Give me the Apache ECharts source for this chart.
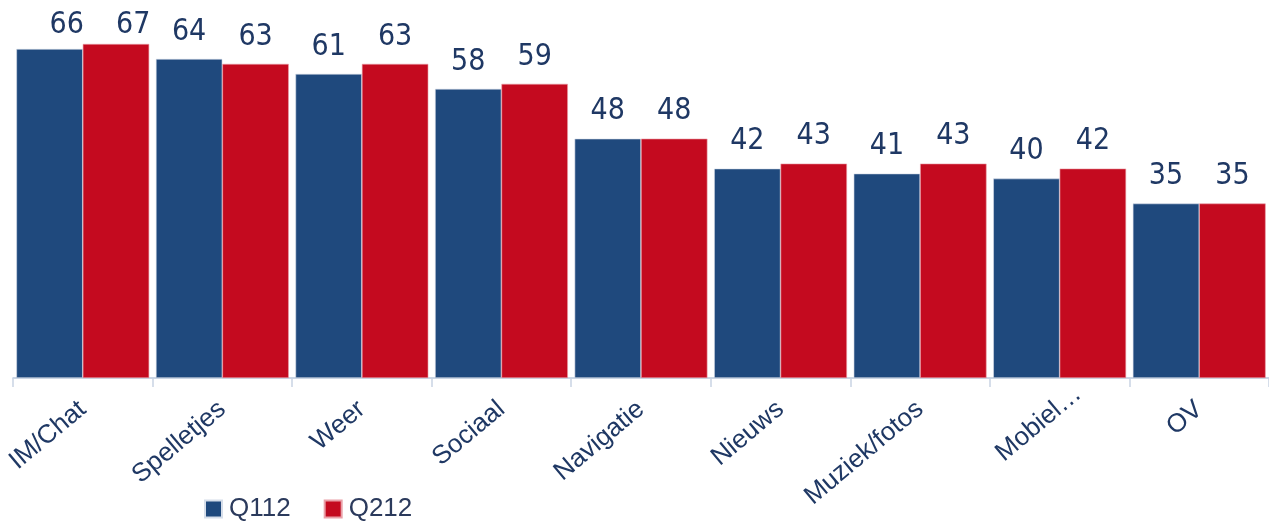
<!DOCTYPE html>
<html>
<head>
<meta charset="utf-8">
<script src="https://cdn.jsdelivr.net/npm/echarts@6/dist/echarts.min.js"></script>
<style>
  html, body { margin: 0; padding: 0; background: #ffffff; }
  #chart { width: 1269px; height: 527px; }
</style>
</head>
<body>
<div id="chart"></div>
<script>
// App usage per category, two quarters
const categories = ['IM/Chat', 'Spelletjes', 'Weer', 'Sociaal', 'Navigatie', 'Nieuws', 'Muziek/fotos', 'Mobiel…', 'OV'];
const q112 = [66, 64, 61, 58, 48, 42, 41, 40, 35];
const q212 = [67, 63, 63, 59, 48, 43, 43, 42, 35];
const seriesNames = ['Q112', 'Q212'];

const BLUE = '#1f497d';
const RED = '#c40a1f';
const NAVY = '#1f3864';
const NUM_FONT = '"Liberation Sans Narrow", "DejaVu Sans Condensed", "Roboto Condensed", sans-serif';
const TEXT_FONT = '"Liberation Sans", Arial, sans-serif';

const chart = echarts.init(document.getElementById('chart'), null, { renderer: 'canvas' });

const valueLabel = {
  show: true,
  position: 'top',
  distance: 12,
  color: NAVY,
  fontFamily: NUM_FONT,
  fontSize: 30,
  fontWeight: 'normal'
};

// keep labels of the tallest bars inside the canvas
function clampTop(params) {
  const r = params.labelRect;
  if (r.y < 10) {
    return { y: 10, verticalAlign: 'top' };
  }
  return {};
}

chart.setOption({
  animation: false,
  grid: { left: 13, right: 0, top: 29, bottom: 149, containLabel: false },
  legend: {
    data: seriesNames,
    left: 204,
    bottom: 5,
    padding: 0,
    itemWidth: 17,
    itemHeight: 17,
    itemGap: 33,
    icon: 'rect',
    textStyle: { color: '#2b3a5c', fontSize: 26, fontFamily: TEXT_FONT, padding: [0, 0, 0, 2] }
  },
  xAxis: {
    type: 'category',
    data: categories,
    axisLine: { lineStyle: { color: '#b9c7dc', width: 1.5 } },
    axisTick: { show: true, length: 9, lineStyle: { color: '#c9d4e4', width: 1.5 } },
    axisLabel: {
      rotate: 40,
      margin: 28,
      interval: 0,
      color: NAVY,
      fontSize: 26,
      fontFamily: TEXT_FONT,
      // the truncated label hangs a little past its tick centre
      formatter: (v) => (v.endsWith('…') ? '{cut|' + v + '}' : v),
      rich: {
        cut: { color: NAVY, fontSize: 26, fontFamily: TEXT_FONT, padding: [0, -24, 0, 0] }
      }
    }
  },
  yAxis: {
    type: 'value',
    min: 0,
    max: 70,
    show: false,
    splitLine: { show: false }
  },
  series: [
    {
      name: seriesNames[0],
      type: 'bar',
      data: q112,
      barGap: '0%',
      barCategoryGap: '4.8%',
      itemStyle: { color: BLUE, borderColor: '#d6deea', borderWidth: 0.6 },
      label: valueLabel,
      labelLayout: clampTop
    },
    {
      name: seriesNames[1],
      type: 'bar',
      data: q212,
      barGap: '0%',
      barCategoryGap: '4.8%',
      itemStyle: { color: RED, borderColor: '#e9a0a8', borderWidth: 0.6 },
      label: valueLabel,
      labelLayout: clampTop
    }
  ]
});
</script>
</body>
</html>
